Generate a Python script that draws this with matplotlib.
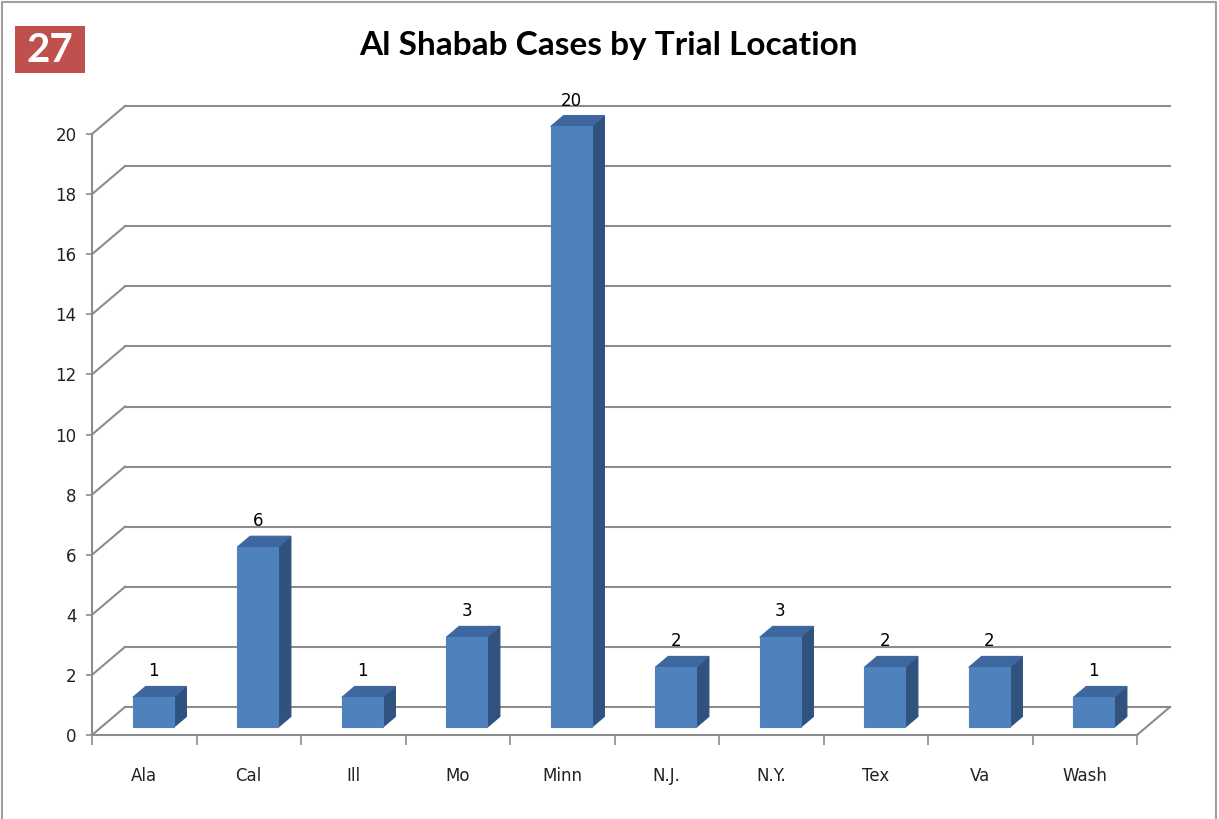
import numpy as np
import matplotlib
matplotlib.use("Agg")
import matplotlib.pyplot as plt
from matplotlib.patches import Polygon, Rectangle
from matplotlib.transforms import IdentityTransform

# data
locations = ['Ala', 'Cal', 'Ill', 'Mo', 'Minn', 'N.J.', 'N.Y.', 'Tex', 'Va', 'Wash']
cases = [1, 6, 1, 3, 20, 2, 3, 2, 2, 1]
y_ticks = list(range(0, 21, 2))
title = 'Al Shabab Cases by Trial Location'
slide_num = '27'

# fake 3d look (pixels at dpi 100)
DEPTH = np.array([33.0, 28.0])
BAR_FRONT = 0.27
BAR_BACK = 0.66
BAR_W = 0.39
GRID = '#8c8c8c'
FRONT = '#4F81BD'
TOP = '#3D679E'
SIDE = '#30527F'

fig = plt.figure(figsize=(12.19, 8.19), dpi=100)
fig.patch.set_facecolor('white')
ax = fig.add_axes([92 / 1219, 84 / 819, 1045 / 1219, 601 / 819])
ax.set_xlim(0, len(locations))
ax.set_ylim(0, 20)
ax.patch.set_visible(False)
for s in ['top', 'right']:
    ax.spines[s].set_visible(False)
for s in ['left', 'bottom']:
    ax.spines[s].set_color(GRID)
    ax.spines[s].set_linewidth(1.5)

ax.set_yticks(y_ticks)
ax.tick_params(axis='y', length=4, width=1.2, color=GRID, pad=7, labelsize=12, labelcolor='#222222')
ax.set_xticks(np.arange(len(locations) + 1))
ax.set_xticklabels([])
ax.tick_params(axis='x', which='major', length=7, width=1.2, color=GRID)
ax.set_xticks(np.arange(len(locations)) + 0.5, minor=True)
ax.set_xticklabels(locations, minor=True)
ax.tick_params(axis='x', which='minor', length=0, pad=23, labelsize=12, labelcolor='#222222')

fig.canvas.draw()
ident = IdentityTransform()


def proj(x, v, d):
    p = ax.transData.transform((x, v))
    return p + d * DEPTH


# back wall grid, side wall diagonals
for v in y_ticks:
    a = proj(0, v, 1)
    b = proj(len(locations), v, 1)
    c = proj(0, v, 0)
    ax.add_line(plt.Line2D([a[0], b[0]], [a[1], b[1]], color=GRID, lw=1.5, transform=ident, clip_on=False, zorder=1))
    ax.add_line(plt.Line2D([c[0], a[0]], [c[1], a[1]], color=GRID, lw=1.5, transform=ident, clip_on=False, zorder=1))
e0 = proj(len(locations), 0, 0)
e1 = proj(len(locations), 0, 1)
ax.add_line(plt.Line2D([e0[0], e1[0]], [e0[1], e1[1]], color=GRID, lw=1.5, transform=ident, clip_on=False, zorder=1))

# bars
for i, v in enumerate(cases):
    x0 = i + 0.5 - BAR_W / 2
    x1 = i + 0.5 + BAR_W / 2
    f = [proj(x0, 0, BAR_FRONT), proj(x1, 0, BAR_FRONT), proj(x1, v, BAR_FRONT), proj(x0, v, BAR_FRONT)]
    side = [proj(x1, 0, BAR_FRONT), proj(x1, 0, BAR_BACK), proj(x1, v, BAR_BACK), proj(x1, v, BAR_FRONT)]
    top = [proj(x0, v, BAR_FRONT), proj(x1, v, BAR_FRONT), proj(x1, v, BAR_BACK), proj(x0, v, BAR_BACK)]
    for pts, col in [(side, SIDE), (top, TOP), (f, FRONT)]:
        ax.add_patch(Polygon(pts, closed=True, facecolor=col, edgecolor=col, lw=0.8,
                             transform=ident, clip_on=False, zorder=3))
    lx = proj(i + 0.5, v, BAR_FRONT)[0]
    ly = proj(i + 0.5, v, BAR_BACK)[1] + 6
    ax.text(lx, ly, str(v), transform=ident, ha='center', va='bottom', fontsize=12,
            color='black', zorder=4)

# title and slide number
fig.text(608 / 1219, 1 - 46 / 819, title, ha='center', va='center', fontsize=24,
         fontweight='bold', family='Lato')
fig.add_artist(Rectangle((15 / 1219, 1 - 73 / 819), 70 / 1219, 47 / 819, transform=fig.transFigure,
                         facecolor='#C0504D', edgecolor='none'))
fig.text(50 / 1219, 1 - 51 / 819, slide_num, ha='center', va='center', fontsize=29,
         fontweight='bold', color='white', family='Lato')

# slide border
fig.add_artist(plt.Line2D([2 / 1219, 2 / 1219, 1216 / 1219, 1216 / 1219],
                          [0, 1 - 2 / 819, 1 - 2 / 819, 0], transform=fig.transFigure,
                          color='#a0a0a0', lw=1.5))

fig.savefig('out.png', dpi=100)
